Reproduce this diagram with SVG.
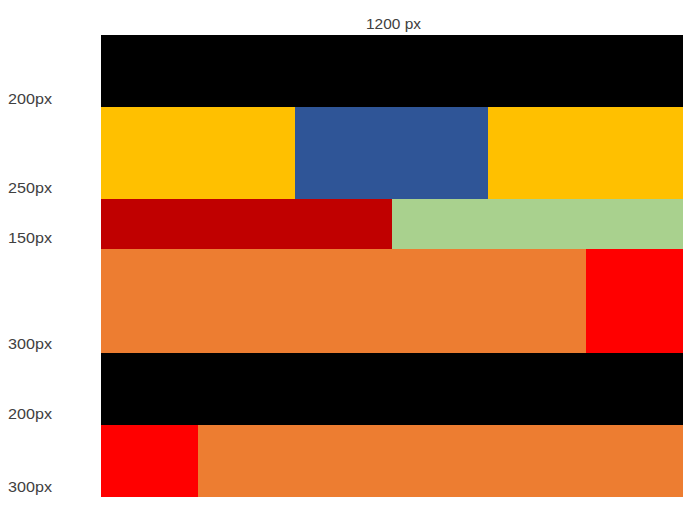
<svg xmlns="http://www.w3.org/2000/svg" width="692" height="507" viewBox="0 0 692 507">
<style>
.lbl{font-family:"Liberation Sans",Arial,sans-serif;font-size:15px;fill:#404040}
</style>
<rect width="692" height="507" fill="#ffffff"/>
<g id="row1"><rect x="101" y="35" width="582" height="72" fill="#000000"/></g>
<g id="row2">
<rect x="101" y="107" width="194" height="92" fill="#FFC000"/>
<rect x="295" y="107" width="193" height="92" fill="#2F5597"/>
<rect x="488" y="107" width="195" height="92" fill="#FFC000"/>
</g>
<g id="row3">
<rect x="101" y="199" width="291" height="50" fill="#C00000"/>
<rect x="392" y="199" width="291" height="50" fill="#A9D18E"/>
</g>
<g id="row4">
<rect x="101" y="249" width="485" height="104" fill="#ED7D31"/>
<rect x="586" y="249" width="97" height="104" fill="#FF0000"/>
</g>
<g id="row5"><rect x="101" y="353" width="582" height="72" fill="#000000"/></g>
<g id="row6">
<rect x="101" y="425" width="97" height="72" fill="#FF0000"/>
<rect x="198" y="425" width="485" height="72" fill="#ED7D31"/>
</g>
<g id="labels">
<text class="lbl" x="366" y="29" textLength="55" lengthAdjust="spacingAndGlyphs">1200 px</text>
<text class="lbl" x="8" y="104" textLength="44" lengthAdjust="spacingAndGlyphs">200px</text>
<text class="lbl" x="8" y="193" textLength="44" lengthAdjust="spacingAndGlyphs">250px</text>
<text class="lbl" x="8" y="243" textLength="44" lengthAdjust="spacingAndGlyphs">150px</text>
<text class="lbl" x="8" y="349" textLength="44" lengthAdjust="spacingAndGlyphs">300px</text>
<text class="lbl" x="8" y="419" textLength="44" lengthAdjust="spacingAndGlyphs">200px</text>
<text class="lbl" x="8" y="492" textLength="44" lengthAdjust="spacingAndGlyphs">300px</text>
</g>
</svg>
